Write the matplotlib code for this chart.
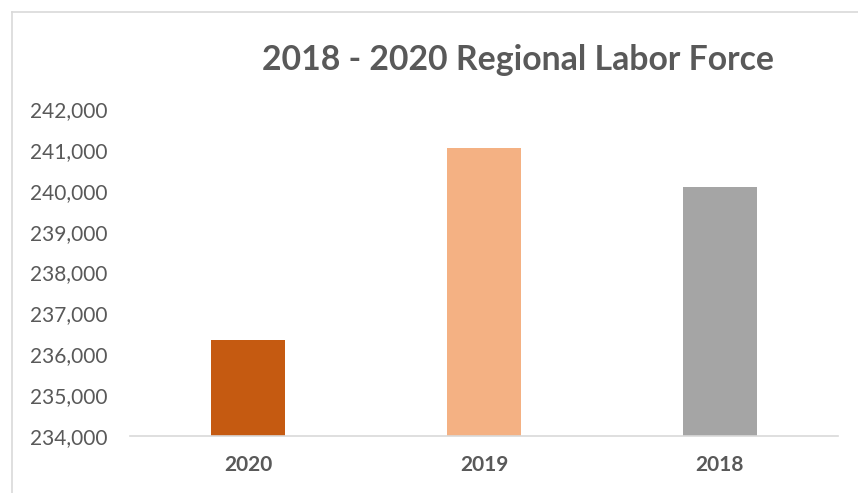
import matplotlib.pyplot as plt
from matplotlib.ticker import FuncFormatter, MultipleLocator
from matplotlib.lines import Line2D

plt.rcParams['font.family'] = ['Lato', 'DejaVu Sans']

# labor force by year
years = ['2020', '2019', '2018']
labor_force = [236340, 241040, 240080]
bar_colors = ['#C55A11', '#F4B183', '#A5A5A5']

y_min, y_max = 234000, 242000

fig = plt.figure(figsize=(8.58, 4.93), dpi=100)
ax = fig.add_axes([130 / 858, 1 - 436 / 493, 708 / 858, 327 / 493])

x = range(len(years))
ax.bar(x, [v - y_min for v in labor_force], bottom=y_min, width=0.31,
       color=bar_colors, zorder=2)

ax.set_xlim(-0.5, len(years) - 0.5)
ax.set_ylim(y_min, y_max)
ax.yaxis.set_major_locator(MultipleLocator(1000))
ax.yaxis.set_major_formatter(FuncFormatter(lambda v, p: f'{int(v):,}'))
ax.set_xticks(list(x))
ax.set_xticklabels(years, fontweight='bold', fontsize=15, color='#595959')

ax.tick_params(axis='y', length=0, pad=16, labelsize=15, labelcolor='#595959')
ax.tick_params(axis='x', length=0, pad=14)

for s in ['top', 'right', 'left']:
    ax.spines[s].set_visible(False)
ax.spines['bottom'].set_color('#D9D9D9')
ax.spines['bottom'].set_linewidth(1.2)

fig.text(518 / 858, 1 - 60 / 493, '2018 - 2020 Regional Labor Force',
         ha='center', va='center', fontsize=24.3, fontweight='bold',
         color='#595959')

# chart frame (left and top edges)
fx = 12 / 858
fy = 1 - 12 / 493
fig.add_artist(Line2D([fx, fx], [0, fy], transform=fig.transFigure,
                      color='#D9D9D9', lw=1.2))
fig.add_artist(Line2D([fx, 1], [fy, fy], transform=fig.transFigure,
                      color='#D9D9D9', lw=1.2))

fig.savefig('out.png', dpi=100)
